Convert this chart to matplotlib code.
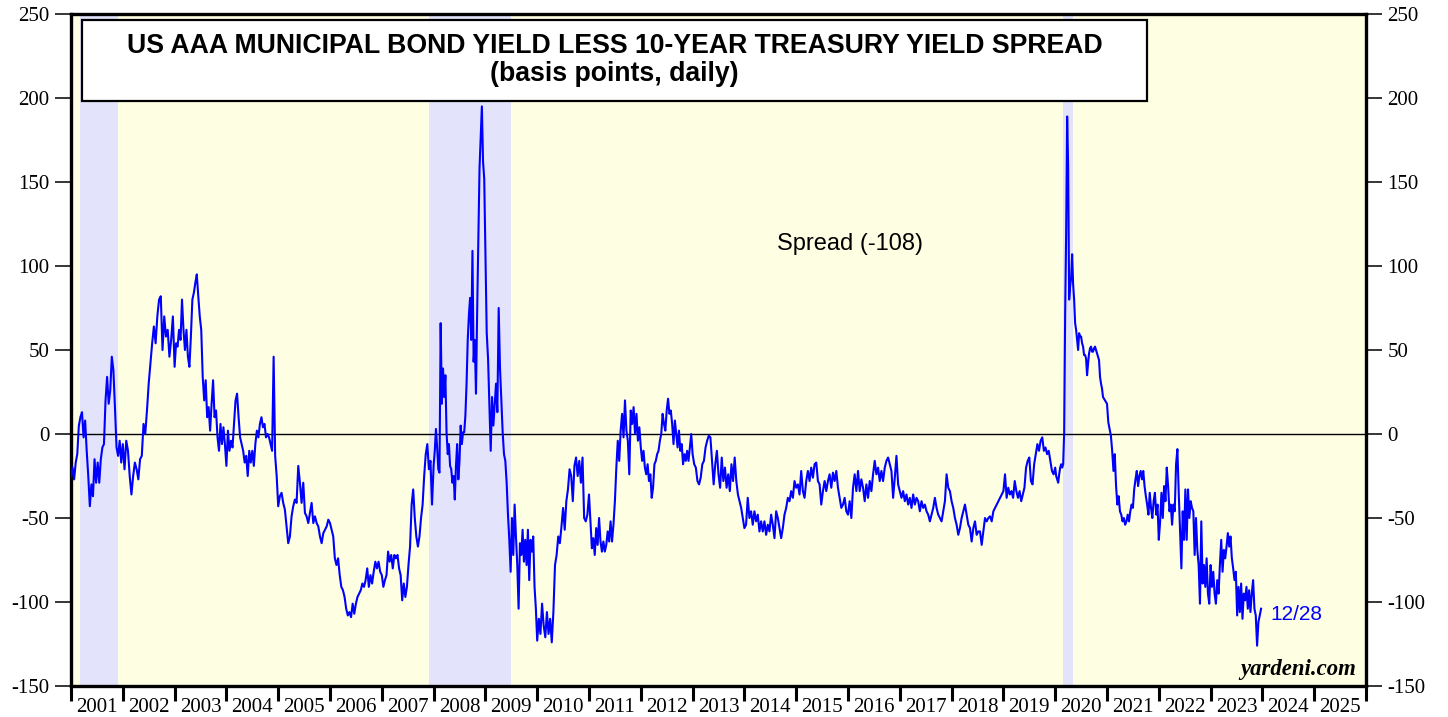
import numpy as np
import matplotlib
matplotlib.use("Agg")
import matplotlib.pyplot as plt
from matplotlib.patches import Rectangle

plt.rcParams['axes.unicode_minus'] = False

######################################################################
# Spread readings (basis points), roughly evenly spaced inside each year
s2001 = [-25, -20, -27, -17, -12, 5, 10, 13, -2, 8, -10, -25, -43, -30, -37, -15, -29, -17, -29, -15,
         -8, -6, 20, 34, 18, 26, 46, 38, 16, -8, -13, -4, -17]
s2002 = [-6, -21, -4, -10, -25, -36, -25, -17, -21, -27, -15, -13, 6, 0, 14, 30, 42, 54, 64, 54,
         70, 80, 82, 50, 70, 58, 62, 46, 56, 70]
s2003 = [40, 54, 52, 62, 56, 80, 62, 50, 62, 46, 40, 58, 80, 84, 90, 95, 82, 70, 62, 34,
         20, 32, 10, 16, 2, 18, 32, 10, 14, -2, -10, 6, -6, 4, -6]
s2004 = [-19, 2, -10, -4, -8, 6, 20, 24, 10, -2, -6, -10, -17, -13, -25, -10, -17, -10, -19, -6,
         2, -2, 6, 10, 4, 6, -2, 0, -2, -6, -10, 46, -13, -25]
s2005 = [-43, -37, -35, -41, -45, -55, -65, -61, -49, -43, -39, -41, -19, -29, -41, -29, -47, -49, -53, -47,
         -41, -53, -49, -53, -55, -61, -65, -59, -57, -55, -51]
s2006 = [-53, -57, -61, -74, -78, -74, -84, -91, -93, -97, -104, -108, -106, -109, -101, -107, -101, -97, -95, -93,
         -89, -91, -87, -80, -91, -84, -89, -82, -76, -80, -76, -82]
s2007 = [-84, -91, -87, -84, -70, -76, -72, -80, -72, -74, -72, -80, -84, -99, -89, -97, -91, -78, -67, -42,
         -33, -50, -61, -67, -61, -50, -42, -25, -12, -6, -21, -16, -42]
s2008 = [-19, -10, 3, -8, -21, -23, 66, 18, 39, 22, 35, 1, -12, -6, -19, -21, -29, -25, -39, -19,
         -6, -27, -16, 5, -6, 1, 1, 11, 30, 56, 71, 81, 56, 109, 43, 56, 24, 73, 116, 158,
         177, 195, 162, 152]
s2009 = [109, 60, 45, 18, -10, 22, 5, 18, 30, 13, 75, 39, 20, 1, -12, -16, -29, -48, -63, -82,
         -50, -72, -42, -61, -78, -104, -65, -72, -57, -76, -63, -78, -57, -87, -63, -70, -61, -91, -104]
s2010 = [-123, -110, -119, -101, -114, -121, -106, -119, -110, -124, -106, -78, -72, -61, -65, -55, -44, -57, -40, -33,
         -21, -25, -40, -19, -14, -25, -16, -29, -14, -50, -52, -48]
s2011 = [-36, -52, -68, -62, -72, -56, -66, -50, -64, -70, -64, -70, -66, -58, -64, -52, -64, -54, -40, -20,
         -4, -16, 2, 12, -2, 20, 2, -4, -24, 14, 6, 16, 0, 12, -4, 4]
s2012 = [-8, -16, -10, -20, -24, -18, -28, -24, -38, -32, -18, -16, -12, -10, -4, 0, 12, 6, 2, 14,
         21, 12, 14, 6, -6, 8, 0, -8, 2, -10, -6, -18, -12, -16, -10, -16, -8, 0]
s2013 = [-12, -18, -20, -28, -30, -26, -18, -16, -8, -4, -1, -2, -16, -30, -18, -10, -24, -32, -14, -28,
         -20, -32, -24, -34, -18, -28, -14, -28, -36, -40, -44, -50]
s2014 = [-56, -54, -38, -50, -46, -54, -46, -52, -48, -58, -52, -58, -52, -60, -54, -58, -48, -54, -62, -46,
         -50, -56, -62, -56, -48, -44, -38, -40, -34, -38, -28]
s2015 = [-32, -30, -36, -22, -34, -38, -28, -22, -28, -20, -26, -18, -17, -28, -30, -42, -34, -28, -34, -28,
         -24, -32, -23, -28, -22, -32, -38, -44, -42, -38, -46]
s2016 = [-48, -40, -50, -32, -24, -34, -22, -34, -27, -32, -40, -30, -38, -28, -34, -24, -16, -24, -20, -28,
         -22, -28, -20, -16, -14, -18, -22, -38, -26, -13, -30]
s2017 = [-34, -38, -34, -40, -36, -42, -38, -44, -36, -42, -38, -40, -46, -40, -44, -42, -46, -48, -52, -48,
         -44, -38, -44, -48, -50, -52, -46, -40, -24, -32, -34]
s2018 = [-40, -44, -50, -54, -60, -56, -50, -46, -42, -48, -54, -56, -64, -56, -52, -60, -58, -58, -66, -58,
         -50, -52, -50, -49, -52, -46, -44, -42, -40, -38, -36]
s2019 = [-34, -24, -38, -32, -36, -34, -38, -28, -34, -38, -34, -40, -36, -32, -20, -16, -14, -28, -30, -18,
         -12, -6, -10, -4, -2, -10, -8, -12, -10, -16, -22, -24]
s2020 = [-20, -25, -27, -29, -24, -20, -18, -20, -18, 1, 72, 120, 189, 160, 80, 88, 93, 107, 89, 80,
         66, 62, 56, 50, 60, 58, 58, 54, 52, 47, 47, 45, 35, 42, 48, 51, 52, 49, 49, 51,
         52, 50, 48, 46, 44, 34, 30, 27, 22, 21, 20, 19]
s2021 = [18, 7, 3, -1, -10, -22, -12, -31, -42, -37, -46, -48, -52, -50, -54, -52, -48, -52, -46, -42,
         -44, -33, -27, -22, -31, -25, -22, -27, -22, -31, -37, -42, -48, -35, -44, -50, -40, -35, -48, -42]
s2022 = [-63, -52, -35, -50, -31, -40, -20, -31, -46, -42, -54, -42, -46, -18, -9, -35, -57, -80, -46, -63,
         -33, -63, -33, -50, -40, -44, -46, -72, -50, -69, -78, -101, -52, -89, -78, -91, -74, -95, -101]
s2023 = [-78, -91, -82, -95, -101, -87, -95, -78, -63, -82, -69, -74, -67, -59, -67, -61, -74, -80, -87, -82,
         -108, -91, -106, -89, -110, -95, -99, -91, -104, -93, -106, -95, -87, -104, -108, -126, -112, -108, -104]

years = list(range(2001, 2024))
yearly = [s2001, s2002, s2003, s2004, s2005, s2006, s2007, s2008, s2009, s2010, s2011, s2012,
          s2013, s2014, s2015, s2016, s2017, s2018, s2019, s2020, s2021, s2022, s2023]

# recessions (decimal years)
rec_start = [2001.17, 2007.91, 2020.15]
rec_end = [2001.91, 2009.50, 2020.34]

tick_years = list(range(2001, 2026))

YELLOW = '#fefee3'
LAVENDER = '#e3e3fb'
BLUE = '#0000ff'

t = []
v = []
for yr, vals in zip(years, yearly):
    n = len(vals)
    for i, val in enumerate(vals):
        t.append(yr + i / n)
        v.append(val)

fig = plt.figure(figsize=(14.48, 7.17), dpi=100)
ax = fig.add_axes([71 / 1448, 1 - 686 / 717, 1295 / 1448, 672 / 717])
ax.set_facecolor(YELLOW)

for a, b in zip(rec_start, rec_end):
    ax.axvspan(a, b, color=LAVENDER, lw=0, zorder=0)

ax.axhline(0, color='black', lw=1.0, zorder=2)
ax.plot(t, v, color=BLUE, lw=1.5, zorder=3)

ax.set_xlim(2001, 2026)
ax.set_ylim(-150, 250)

# y axis both sides
ax.set_yticks(np.arange(-150, 251, 50))
ax.tick_params(axis='y', which='major', direction='out', length=11.5, width=1.1,
               left=True, right=True, labelleft=True, labelright=True, pad=4,
               labelsize=15)

# x axis: ticks at year starts, labels centred in the year
ax.set_xticks(tick_years + [2026])
ax.set_xticklabels([])
ax.set_xticks([y + 0.5 for y in tick_years], minor=True)
ax.set_xticklabels([str(y) for y in tick_years], minor=True)
ax.tick_params(axis='x', which='major', direction='out', length=11, width=2.2)
ax.tick_params(axis='x', which='minor', length=0, pad=9, labelsize=15)

for lab in ax.get_xticklabels(which='both') + ax.get_yticklabels():
    lab.set_fontfamily('Liberation Serif')
for lab in ax.yaxis.get_ticklabels(which='both'):
    lab.set_fontfamily('Liberation Serif')

for sp in ax.spines.values():
    sp.set_linewidth(2.4)

# title box
box = Rectangle((11 / 1295, 0.8705), 0.8225, 0.1205, transform=ax.transAxes,
                facecolor='white', edgecolor='black', lw=1.6, zorder=5)
ax.add_patch(box)
ax.text(0.4197, 0.953, 'US AAA MUNICIPAL BOND YIELD LESS 10-YEAR TREASURY YIELD SPREAD',
        transform=ax.transAxes, ha='center', va='center', fontsize=19.2, fontweight='bold',
        family='Liberation Sans', zorder=6)
ax.text(0.4197, 0.911, '(basis points, daily)',
        transform=ax.transAxes, ha='center', va='center', fontsize=19.2, fontweight='bold',
        family='Liberation Sans', zorder=6)

ax.text(0.6015, 0.658, 'Spread (-108)', transform=ax.transAxes, ha='center', va='center',
        fontsize=17, family='Liberation Sans', zorder=6)
ax.text(0.926, 0.1057, '12/28', transform=ax.transAxes, ha='left', va='center',
        fontsize=15, color=BLUE, family='Liberation Sans', zorder=6)
ax.text(0.9923, 0.024, 'yardeni.com', transform=ax.transAxes, ha='right', va='center',
        fontsize=16.4, fontweight='bold', fontstyle='italic', family='Liberation Serif', zorder=6)

fig.savefig('out.png', dpi=100)
